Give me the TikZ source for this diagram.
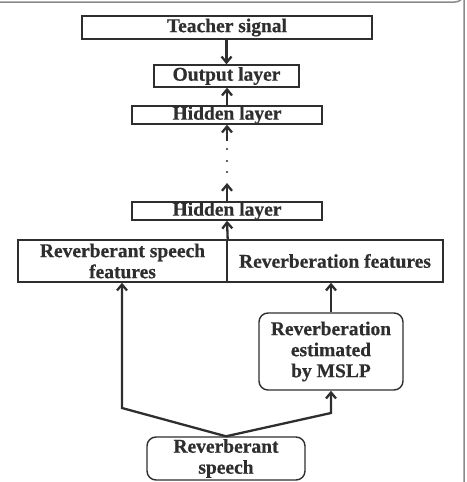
\documentclass[tikz,border=0pt]{standalone}
\usepackage{fontspec}
\setmainfont{Liberation Serif}[BoldFeatures={FakeBold=0.6}]
\usetikzlibrary{arrows.meta}
\definecolor{ink}{HTML}{2E2E2E}
\definecolor{framec}{HTML}{8A8A8A}
\begin{document}
\begin{tikzpicture}[x=1pt,y=-1pt,
  box/.style={draw=ink,line width=1.4pt,inner sep=0pt,text=ink,
    font=\fontsize{19.5}{21}\selectfont\bfseries,align=center},
  rbox/.style={box,rounded corners=9pt},
  arr/.style={draw=ink,line width=2.3pt,-{Straight Barb[length=6pt,width=10pt,line width=2.3pt]}},
  conn/.style={draw=ink,line width=2.3pt}]
\useasboundingbox (0,0) rectangle (466,482);
\draw[framec,line width=1.5pt] (0,2) -- (455,2) arc[start angle=90,end angle=0,radius=9] -- (464,482);
\node[box,minimum width=290pt,minimum height=23pt] (teacher) at (227,27.5) {Teacher signal};
\node[box,minimum width=145pt,minimum height=22pt] (output) at (226.5,76) {Output layer};
\node[box,minimum width=190pt,minimum height=18pt] (hid1) at (227,115) {Hidden layer};
\node[box,minimum width=190pt,minimum height=18pt] (hid2) at (227,211) {Hidden layer};
\node[box,minimum width=209pt,minimum height=42pt] (sp) at (122.5,261) {Reverberant speech\\features};
\node[box,minimum width=216pt,minimum height=42pt] (rv) at (335,261) {Reverberation features};
\node[rbox,minimum width=144pt,minimum height=77pt] (mslp) at (331,351.5) {Reverberation\\estimated\\by MSLP};
\node[rbox,minimum width=158pt,minimum height=43pt] (speech) at (226,458.5) {Reverberant\\speech};
\coordinate (d1) at (227,141);
\coordinate (d2) at (227,183);
\coordinate (kl) at (122,408);
\coordinate (kr) at (331,413);
\draw[arr] (teacher.south -| output.north) -- (output.north);
\draw[arr] (hid1.north) -- (hid1.north |- output.south);
\draw[arr] (d1) -- (hid1.south);
\draw[arr] (hid2.north) -- (d2);
\draw[arr] (sp.north east) -- (hid2.south);
\foreach \yy/\nm in {149/a,161/b,172/c} {\fill[ink] (227,\yy) circle (1.1pt) coordinate (dot\nm);}
\draw[arr] (speech.north) -- (kl) -- (kl |- sp.south);
\draw[arr] (speech.north) -- (kr) -- (mslp.south);
\draw[arr] (mslp.north) -- (mslp.north |- rv.south);
\end{tikzpicture}
\end{document}
